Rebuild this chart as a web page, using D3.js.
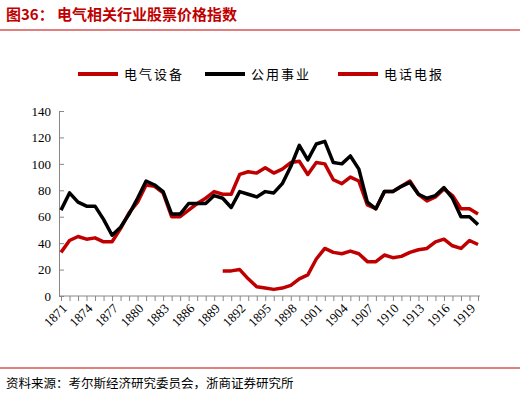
<!DOCTYPE html>
<html><head><meta charset="utf-8">
<script src="https://cdn.jsdelivr.net/npm/d3@7.9.0/dist/d3.min.js"></script>
<style>body{margin:0;background:#fff;font-family:"Noto Sans CJK SC","Noto Sans",sans-serif}</style>
</head><body><svg id="c" width="520" height="403"></svg>
<script>
const startYear = 1871;
const utility = [65,78,71,68,68,58,46,52,62,74,87,84,79,62,62,70,70,70,76,74,67,79,77,75,79,78,85,98,114,103,115,117,101,100,106,96,71,66,79,79,83,86,77,74,76,82,74,60,60,54];
const electric = [33,42,45,43,44,41,41,51,63,71,84,83,78,60,60,65,70,74,79,77,77,92,94,93,97,93,96,101,102,92,101,100,88,85,90,87,69,66,79,79,83,87,77,72,75,81,76,66,66,62];
const phoneStart = 1890;
const phone = [19,19,20,13,7,6,5,6,8,13,16,28,36,33,32,34,32,26,26,31,29,30,33,35,36,41,43,38,36,42,39];
const yTicks = [0,20,40,60,80,100,120,140];
const series = [
  {name:'电气设备', color:'#c00000', values: electric.map((v,i)=>({year:startYear+i, v}))},
  {name:'公用事业', color:'#000000', values: utility.map((v,i)=>({year:startYear+i, v}))},
  {name:'电话电报', color:'#c00000', values: phone.map((v,i)=>({year:phoneStart+i, v}))}
];

const svg = d3.select('#c');
const red = '#c00000';
const serif = '"Liberation Serif","Times New Roman",serif';
// title
svg.append('text').attr('x',6).attr('y',20).attr('fill',red).attr('font-size',15).attr('font-weight','bold').text('图36：  电气相关行业股票价格指数');
svg.append('line').attr('x1',0).attr('x2',520).attr('y1',30).attr('y2',30).attr('stroke',red).attr('stroke-width',1);
// footer
svg.append('line').attr('x1',0).attr('x2',520).attr('y1',368).attr('y2',368).attr('stroke',red).attr('stroke-width',1);
svg.append('text').attr('x',6).attr('y',388).attr('font-size',12.5).attr('fill','#000').text('资料来源：考尔斯经济研究委员会，浙商证券研究所');

const x = d3.scaleLinear().domain([1871,1920]).range([61,478]);
const y = d3.scaleLinear().domain([0,140]).range([296,111]);

const gy = svg.append('g').attr('transform','translate(59,0)')
  .call(d3.axisLeft(y).tickValues(yTicks).tickSize(5).tickSizeOuter(0));
gy.selectAll('text').attr('font-size',13).style('font-family',serif).attr('fill','#000');
gy.select('.domain').attr('stroke','#888');
gy.selectAll('.tick line').attr('stroke','#888').attr('x2',5);

const xt = d3.range(1871,1921);
const gx = svg.append('g').attr('transform','translate(0,296)')
  .call(d3.axisBottom(x).tickValues(xt).tickSize(5).tickFormat(d => (d-1871)%3===0 ? d : '').tickSizeOuter(0));
gx.select('.domain').attr('stroke','#888').attr('d','M59,0H480');
gx.selectAll('.tick line').attr('stroke','#888');
gx.selectAll('text').attr('font-size',13).style('font-family',serif).attr('fill','#000')
  .attr('text-anchor','end').attr('y',0).attr('dy','0.35em').attr('transform','translate(3,10) rotate(-45)');

const line = d3.line().x(d=>x(d.year)).y(d=>y(d.v));
series.forEach(s => {
  svg.append('path').attr('d', line(s.values)).attr('fill','none').attr('stroke',s.color)
    .attr('stroke-width',3.5).attr('stroke-linejoin','round');
});

// legend
const lx = [78,205,338];
series.forEach((s,i) => {
  const g = svg.append('g').attr('transform',`translate(${lx[i]},74)`);
  g.append('line').attr('x1',0).attr('x2',40).attr('stroke',s.color).attr('stroke-width',4);
  g.append('text').attr('x',46).attr('y',5).attr('font-size',13).attr('letter-spacing',2).text(s.name);
});
</script></body></html>
